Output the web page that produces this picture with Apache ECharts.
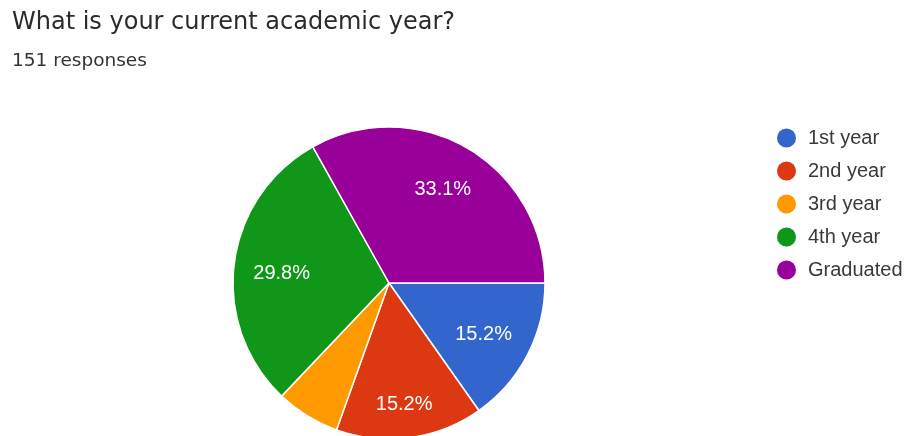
<!DOCTYPE html>
<html>
<head>
<meta charset="utf-8">
<script src="https://cdn.jsdelivr.net/npm/echarts@6/dist/echarts.min.js"></script>
<style>
  html, body { margin: 0; padding: 0; background: #fff; }
  #chart { width: 908px; height: 436px; }
</style>
</head>
<body>
<div id="chart"></div>
<script>
// Survey answers: academic year of respondents
const categories = ['1st year', '2nd year', '3rd year', '4th year', 'Graduated'];
const counts = [23, 23, 10, 45, 50];
const colors = ['#3366cc', '#dc3912', '#ff9900', '#109618', '#990099'];
const showPct = [true, true, false, true, true];
const totalResponses = 151;

const chart = echarts.init(document.getElementById('chart'));

const center = [389, 283];
const R = 156;
// small per-slice nudges for the percentage labels
const labelNudge = [[-5, 0], [0, 10], [0, 0], [4, 4], [-3, 3]];

const sliceData = categories.map((name, i) => ({
  name,
  value: counts[i],
  itemStyle: { color: colors[i] }
}));

// Transparent ring carrying the percentage labels further out than the pie's midpoint
const labelData = categories.map((name, i) => ({
  name,
  value: counts[i],
  itemStyle: { color: 'rgba(0,0,0,0)' },
  label: { show: showPct[i], offset: labelNudge[i] }
}));

chart.setOption({
  animation: false,
  title: [
    {
      text: 'What is your current academic year?',
      left: 7, top: 6,
      textStyle: { fontFamily: 'DejaVu Sans', fontSize: 24, fontWeight: 'normal', color: '#2b2b2b' }
    },
    {
      text: totalResponses + ' responses',
      left: 7, top: 47,
      textStyle: { fontFamily: 'DejaVu Sans', fontSize: 18.5, fontWeight: 'normal', color: '#333' }
    }
  ],
  legend: {
    orient: 'vertical',
    left: 772, top: 123,
    icon: 'circle',
    itemWidth: 19, itemHeight: 19,
    itemGap: 13,
    itemStyle: { borderWidth: 0 },
    data: categories,
    textStyle: { fontFamily: 'Liberation Sans', fontSize: 20, lineHeight: 19, color: '#3a3a3a', padding: [0, 0, 0, 7] }
  },
  series: [
    {
      type: 'pie',
      center: center,
      radius: R,
      startAngle: 0,
      clockwise: true,
      label: { show: false },
      labelLine: { show: false },
      itemStyle: { borderColor: '#fff', borderWidth: 1.5 },
      emphasis: { disabled: true },
      data: sliceData
    },
    {
      type: 'pie',
      center: center,
      radius: [R * 0.4, R],
      startAngle: 0,
      clockwise: true,
      silent: true,
      label: {
        show: true,
        position: 'inside',
        formatter: p => p.percent.toFixed(1) + '%',
        fontFamily: 'Liberation Sans',
        fontSize: 20,
        color: '#fff'
      },
      labelLine: { show: false },
      emphasis: { disabled: true },
      data: labelData
    }
  ]
});
</script>
</body>
</html>
